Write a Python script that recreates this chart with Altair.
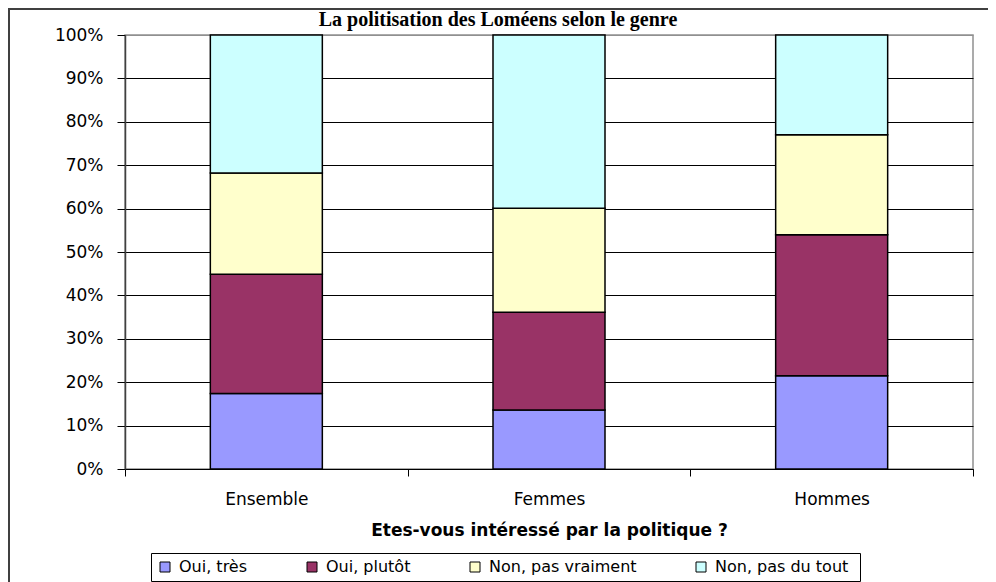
import altair as alt
import pandas as pd

categories = ["Ensemble", "Femmes", "Hommes"]
responses = ["Oui, très", "Oui, plutôt", "Non, pas vraiment", "Non, pas du  tout"]
oui_tres = [17.4, 13.6, 21.5]
oui_plutot = [27.5, 22.5, 32.5]
non_pas_vraiment = [23.3, 24.0, 23.0]
non_pas_du_tout = [31.8, 39.9, 23.0]
colors = ["#9999FF", "#993366", "#FFFFCC", "#CCFFFF"]
y_ticks = [0, 0.1, 0.2, 0.3, 0.4, 0.5, 0.6, 0.7, 0.8, 0.9, 1.0]
title_text = "La politisation des Loméens selon le genre"
x_title = "Etes-vous intéressé par la politique ?"

series = [oui_tres, oui_plutot, non_pas_vraiment, non_pas_du_tout]
rows = []
for ci, c in enumerate(categories):
    for ri, r in enumerate(responses):
        rows.append({"groupe": c, "reponse": r, "ordre": ri, "valeur": series[ri][ci] / 100})
df = pd.DataFrame(rows)

W, H = 848, 434
one = pd.DataFrame({"k": [0]})

frame_top = alt.Chart(one).mark_rule(stroke="#404040", strokeWidth=2).encode(
    x=alt.value(-117), x2=alt.value(880), y=alt.value(-26)
)
frame_left = alt.Chart(one).mark_rule(stroke="#404040", strokeWidth=2).encode(
    x=alt.value(-116), y=alt.value(-27), y2=alt.value(560)
)

bars = alt.Chart(df).mark_bar(size=112, stroke="black", strokeWidth=1.5).encode(
    x=alt.X(
        "groupe:N",
        sort=categories,
        scale=alt.Scale(paddingInner=0, paddingOuter=0),
        axis=alt.Axis(
            title=x_title,
            labelAngle=0,
            tickBand="extent",
            domainColor="black",
            domainWidth=1,
            tickColor="black",
            tickSize=7,
            labelFont="DejaVu Sans",
            labelFontSize=17,
            labelColor="black",
            labelPadding=15,
            titleFont="DejaVu Sans",
            titleFontSize=17,
            titleFontWeight="bold",
            titleColor="black",
            titlePadding=15,
        ),
    ),
    y=alt.Y(
        "valeur:Q",
        stack="zero",
        scale=alt.Scale(domain=[0, 1], nice=False),
        axis=alt.Axis(
            title=None,
            format="%",
            values=y_ticks,
            grid=True,
            gridColor={"condition": {"test": "datum.value >= 1", "value": "#909090"}, "value": "black"},
            gridWidth=1,
            gridOpacity=1,
            domainColor="#404040",
            domainWidth=1.5,
            tickColor="black",
            tickSize=8,
            labelFont="DejaVu Sans",
            labelFontSize=17,
            labelColor="black",
            labelPadding=14,
        ),
    ),
    color=alt.Color(
        "reponse:N",
        sort=responses,
        scale=alt.Scale(domain=responses, range=colors),
        legend=alt.Legend(
            orient="none",
            legendX=26,
            legendY=518,
            direction="horizontal",
            columns=4,
            title=None,
            symbolType="square",
            symbolSize=100,
            symbolStrokeColor="black",
            symbolStrokeWidth=1,
            symbolOpacity=1,
            labelFont="DejaVu Sans",
            labelFontSize=16,
            labelColor="black",
            labelOffset=6,
            strokeColor="black",
            fillColor="white",
            padding=6,
            columnPadding=56,
        ),
    ),
    order=alt.Order("ordre:Q", sort="ascending"),
)

title = alt.Chart(pd.DataFrame({"t": [title_text]})).mark_text(
    font="Liberation Serif", fontSize=20, fontWeight="bold", align="center",
    baseline="alphabetic", color="black"
).encode(text="t:N", x=alt.value(373), y=alt.value(-9))

chart = alt.layer(frame_top, frame_left, bars, title).properties(
    width=W,
    height=H,
    autosize="none",
    padding={"left": 117, "top": 27, "right": 15, "bottom": 113},
    background="white",
).configure_view(stroke="#909090", strokeWidth=1.5)

chart.save("out.html", embed_options={"renderer": "svg", "actions": False})
